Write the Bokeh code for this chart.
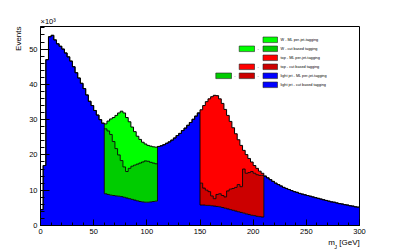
import numpy as np
from bokeh.plotting import figure
from bokeh.models import Range1d, SingleIntervalTicker, Label, BoxAnnotation, Title
from bokeh.embed import file_html
from bokeh.resources import INLINE

# ---------------- data (events, in units of 10^3) ----------------
BIN_WIDTH = 2.5                     # GeV
X_MIN, X_MAX = 0, 300

# light jet (bottom of the stack), one value per 2.5 GeV bin, 0-300 GeV
light_jet = [
    4.5, 17.0, 47.0, 53.5, 53.9, 52.6, 51.5, 50.8, 50.0, 48.9, 47.8, 46.6,
    45.0, 43.3, 41.8, 40.3, 38.8, 37.0, 35.2, 34.0, 32.6, 31.3, 30.0, 29.0,
    9.0, 8.8, 8.6, 8.5, 8.4, 8.3, 8.2, 8.0, 7.8, 7.6, 7.4, 7.2, 7.0, 6.8,
    6.7, 6.6, 6.6, 6.7, 6.8, 6.9,
    22.4, 22.6, 22.9, 23.3, 23.7, 24.2, 24.8, 25.5, 26.1, 26.9, 27.6, 28.4,
    29.2, 30.1, 31.0, 31.9,
    5.8, 5.8, 5.7, 5.7, 5.6, 5.5, 5.4, 5.3, 5.1, 4.9, 4.7, 4.5, 4.3, 4.1,
    3.9, 3.7, 3.5, 3.3, 3.1, 2.9, 2.8, 2.6, 2.5, 2.4,
    14.0, 13.5, 13.0, 12.5, 12.0, 11.6, 11.2, 10.8, 10.5, 10.2, 9.9, 9.6,
    9.4, 9.1, 8.9, 8.7, 8.5, 8.3, 8.1, 7.9, 7.7, 7.5, 7.3, 7.1, 6.9, 6.7,
    6.6, 6.4, 6.2, 6.1, 5.9, 5.8, 5.6, 5.5, 5.3, 5.2,
]

# W window 60-110 GeV
w_window = (60, 110)
w_cut = [18.4, 18.0, 17.2, 15.3, 13.4, 11.7, 10.2, 8.6, 7.5, 8.6,
         9.4, 9.9, 10.4, 10.9, 11.3, 11.7, 11.6, 11.2, 10.9, 10.6]
w_ml = [1.4, 2.8, 4.4, 6.8, 9.4, 11.9, 14.0, 15.3, 15.3, 13.2,
        11.1, 9.5, 7.9, 6.7, 5.6, 4.8, 4.5, 4.6, 4.6, 4.7]

# top window 150-210 GeV
top_window = (150, 210)
top_cut = [6.2, 4.8, 4.3, 3.9, 2.8, 2.1, 3.4, 3.7, 3.4, 3.2, 5.1, 5.8,
           6.2, 6.7, 7.7, 7.3, 12.5, 11.5, 11.9, 12.4, 12.0, 11.8, 11.7, 11.8]
top_ml = [20.8, 23.4, 25.1, 26.3, 28.1, 29.3, 28.0, 26.9, 26.1, 24.8, 21.4, 19.2,
          17.2, 15.2, 12.7, 11.7, 5.3, 5.3, 4.0, 2.7, 2.2, 1.8, 1.2, 0.6]

legend_labels = ["W - ML per-jet-tagging", "W - cut based tagging",
                 "top - ML per-jet-tagging", "top - cut based tagging",
                 "light jet - ML per-jet-tagging", "light jet - cut based tagging"]

# ---------------- colours ----------------
LIME, DGREEN = "#00ff00", "#00cc00"
RED, DRED = "#ff0000", "#cc0000"
BLUE = "#0000ff"
legend_colors = [LIME, DGREEN, RED, DRED, BLUE, BLUE]

FONT = "Liberation Sans"

# ---------------- stacking ----------------
edges = np.arange(X_MIN, X_MAX + BIN_WIDTH / 2, BIN_WIDTH)
n = len(light_jet)


def place(vals, lo):
    arr = np.zeros(n)
    i0 = int(round((lo - X_MIN) / BIN_WIDTH))
    arr[i0:i0 + len(vals)] = vals
    return arr


s0 = np.array(light_jet, dtype=float)
s1 = s0 + place(w_cut, w_window[0])
s2 = s1 + place(w_ml, w_window[0])
s3 = s2 + place(top_cut, top_window[0])
s4 = s3 + place(top_ml, top_window[0])


def ext(a):
    return np.append(a, a[-1])


def win(lo, hi):
    return int(round((lo - X_MIN) / BIN_WIDTH)), int(round((hi - X_MIN) / BIN_WIDTH))


Y_MAX = 56.4
W, H = 391, 251
p = figure(width=W, height=H, output_backend="svg", toolbar_location=None,
           x_range=Range1d(X_MIN, X_MAX), y_range=Range1d(0, Y_MAX),
           min_border_left=40, min_border_right=32,
           min_border_top=26, min_border_bottom=26)
p.background_fill_color = "white"
p.border_fill_color = "white"
p.outline_line_color = "black"
p.outline_line_width = 1
p.grid.visible = False

# fills
p.varea_step(x=edges, y1=np.zeros(n + 1), y2=ext(s0), step_mode="after", fill_color=BLUE)
a, b = win(*w_window)
xe = edges[a:b + 1]
p.varea_step(x=xe, y1=ext(s0[a:b]), y2=ext(s1[a:b]), step_mode="after", fill_color=DGREEN)
p.varea_step(x=xe, y1=ext(s1[a:b]), y2=ext(s2[a:b]), step_mode="after", fill_color=LIME)
p.step(x=xe, y=ext(s1[a:b]), mode="after", line_color="black", line_width=0.9)
c, d = win(*top_window)
xt = edges[c:d + 1]
p.varea_step(x=xt, y1=ext(s2[c:d]), y2=ext(s3[c:d]), step_mode="after", fill_color=DRED)
p.varea_step(x=xt, y1=ext(s3[c:d]), y2=ext(s4[c:d]), step_mode="after", fill_color=RED)
p.step(x=xt, y=ext(s3[c:d]), mode="after", line_color="black", line_width=0.9)

# outlines
p.step(x=edges, y=ext(s0), mode="after", line_color="black", line_width=0.9)
p.step(x=edges, y=ext(s4), mode="after", line_color="black", line_width=1)

# axes
for ax in p.xaxis:
    ax.ticker = SingleIntervalTicker(interval=50, num_minor_ticks=5)
    ax.major_tick_in, ax.major_tick_out = 6, 0
    ax.minor_tick_in, ax.minor_tick_out = 3, 0
    ax.major_label_standoff = 3
for ax in p.yaxis:
    ax.ticker = SingleIntervalTicker(interval=10, num_minor_ticks=5)
    ax.major_tick_in, ax.major_tick_out = 9, 0
    ax.minor_tick_in, ax.minor_tick_out = 4, 0
    ax.major_label_standoff = 3
for ax in list(p.xaxis) + list(p.yaxis):
    ax.axis_line_color = "black"
    ax.major_tick_line_color = "black"
    ax.minor_tick_line_color = "black"
    ax.major_label_text_font = FONT
    ax.major_label_text_font_size = "7.5px"
    ax.major_label_text_color = "black"

# titles outside the frame
p.add_layout(Title(text="Events", align="right", text_font=FONT, text_font_size="8px",
                   text_font_style="normal", text_color="black", standoff=8), "left")
p.add_layout(Title(text="×10³", align="left", text_font=FONT, text_font_size="7.5px",
                   text_font_style="normal", text_color="black", standoff=1), "above")

# x-axis label: "m  [GeV]" below the axis, subscript "J" in the right panel
p.add_layout(Label(x=319.3, y=3, x_units="screen", y_units="screen",
                   text="m\u00a0\u00a0[GeV]", text_font=FONT, text_font_size="8px",
                   text_color="black", text_align="right",
                   text_baseline="alphabetic"), "below")
p.add_layout(Label(x=-25.3, y=-21.5, x_units="screen", y_units="screen",
                   text="J", text_font=FONT, text_font_size="5.5px",
                   text_color="black", text_baseline="alphabetic"), "right")


# ---------------- legend (positioned in page pixels) ----------------
def px2x(px):
    return (px - 40) * (X_MAX - X_MIN) / 319 + X_MIN


def py2y(py):
    return (225 - py) * Y_MAX / 199


def lab(px, py, text, size, align="left", baseline="middle"):
    p.add_layout(Label(x=px2x(px), y=py2y(py), text=text, text_font=FONT,
                       text_font_size=size, text_align=align,
                       text_baseline=baseline, text_color="black"))


def box(px0, px1, pyc, color):
    p.add_layout(BoxAnnotation(left=px2x(px0), right=px2x(px1),
                               bottom=py2y(pyc + 2.8), top=py2y(pyc - 2.8),
                               fill_color=color, fill_alpha=1,
                               line_color="#222222", line_width=0.6, line_alpha=1))


row0, dy = 39.3, 9.0
for i, (t, col) in enumerate(zip(legend_labels, legend_colors)):
    yc = row0 + i * dy
    box(262.5, 277.0, yc, col)
    lab(280, yc, t, "3.8px")

# extra boxes in the reference legend
extras = [(1, 238.7, 254.0, LIME, 257.6), (3, 238.7, 254.0, RED, 257.6),
          (4, 238.7, 254.0, DRED, 257.6), (4, 215.3, 231.0, DGREEN, 234.5)]
for row, x0, x1, col, dash_x in extras:
    yc = row0 + row * dy
    box(x0, x1, yc, col)
    lab(dash_x, yc, "-", "4px", align="center")

open("out.html", "w").write(file_html(p, INLINE))
